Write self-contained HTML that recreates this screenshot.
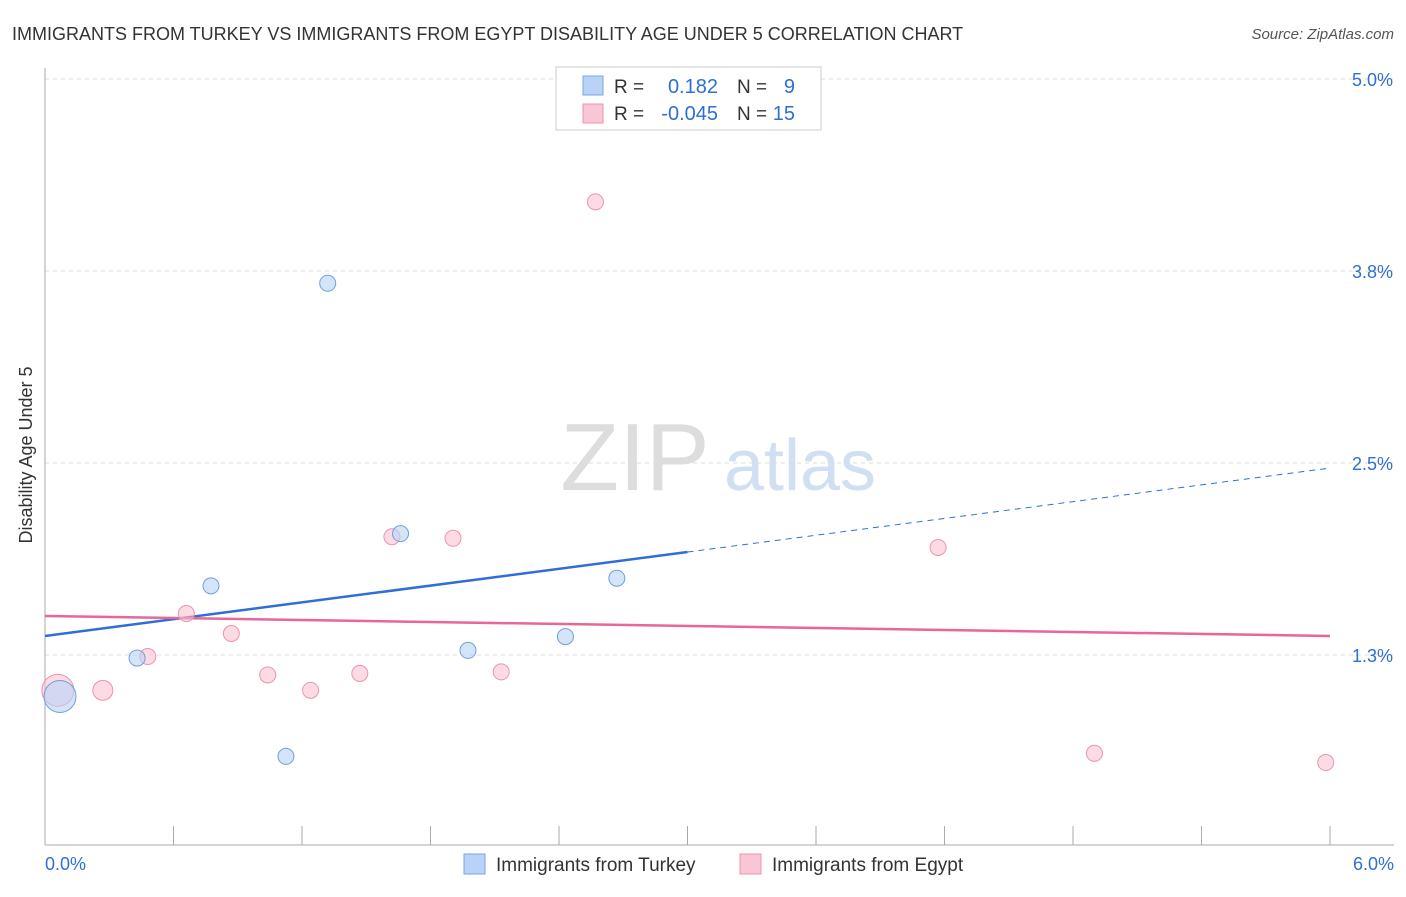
<!DOCTYPE html>
<html><head><meta charset="utf-8"><style>
body{margin:0;background:#fff;font-family:"Liberation Sans",sans-serif;}
svg text{font-family:"Liberation Sans",sans-serif;}
</style></head><body>
<svg id="chart" width="1406" height="892" xmlns="http://www.w3.org/2000/svg">
<text x="12" y="40" font-size="18" fill="#333">IMMIGRANTS FROM TURKEY VS IMMIGRANTS FROM EGYPT DISABILITY AGE UNDER 5 CORRELATION CHART</text>
<text x="1394" y="39" font-size="15" fill="#555" font-style="italic" text-anchor="end">Source: ZipAtlas.com</text>
<text x="32" y="455" font-size="18" fill="#333" text-anchor="middle" transform="rotate(-90 32 455)">Disability Age Under 5</text>
<g>
<text x="635" y="490" font-size="96" fill="#ddd" font-family="Liberation Serif" text-anchor="middle">ZIP</text>
<text x="800" y="490" font-size="72" fill="#d0dff2" text-anchor="middle">atlas</text>
</g>
<g id="grid"></g><g id="axes"></g><g id="lines"></g><g id="points"></g>
<g>
<rect x="556" y="67" width="265" height="63" fill="#fff" stroke="#ccc"/>
<rect x="583" y="76" width="20" height="19" fill="#b8d3f5" stroke="#7aa7e0"/>
<rect x="583" y="104" width="20" height="19" fill="#f9c6d5" stroke="#ec93ae"/>
<text x="614" y="93" font-size="19" fill="#333">R = </text><text x="718" y="93" font-size="20" fill="#2e6fd4" text-anchor="end">0.182</text>
<text x="737" y="93" font-size="19" fill="#333">N = </text><text x="795" y="93" font-size="20" fill="#2e6fd4" text-anchor="end">9</text>
<text x="614" y="120" font-size="19" fill="#333">R = </text><text x="718" y="120" font-size="20" fill="#2e6fd4" text-anchor="end">-0.045</text>
<text x="737" y="120" font-size="19" fill="#333">N = </text><text x="795" y="120" font-size="20" fill="#2e6fd4" text-anchor="end">15</text>
</g>
<g>
<rect x="464" y="854" width="21" height="20" fill="#b8d3f5" stroke="#7aa7e0"/>
<text x="496" y="871" font-size="19" fill="#333">Immigrants from Turkey</text>
<rect x="740" y="854" width="21" height="20" fill="#f9c6d5" stroke="#ec93ae"/>
<text x="772" y="871" font-size="19" fill="#333">Immigrants from Egypt</text>
</g>
</svg>
<script>
const yTicks=[1.25,2.5,3.75,5.0];
const yTickLabels=["1.3%","2.5%","3.8%","5.0%"];
const xTickLabels=["0.0%","6.0%"];
const turkeyX=[0.07,0.43,0.775,1.32,1.66,1.975,2.43,2.67,1.125];
const turkeyY=[0.98,1.23,1.70,3.67,2.04,1.28,1.37,1.75,0.59];
const turkeyR=[16,8,8,8,8,8,8,8,8];
const egyptX=[0.06,0.27,0.48,0.66,0.87,1.04,1.24,1.47,1.62,1.905,2.13,2.57,4.17,4.90,5.98];
const egyptY=[1.02,1.02,1.24,1.52,1.39,1.12,1.02,1.13,2.02,2.01,1.14,4.20,1.95,0.61,0.55];
const egyptR=[16,10,8,8,8,8,8,8,8,8,8,8,8,8,8];
const turkeyTrend=[1.374,2.467];
const egyptTrend=[1.504,1.374];
const NS="http://www.w3.org/2000/svg";
const X=v=>45+v*214.17, Y=v=>655-(v-1.25)*153.6;
function mk(tag,attrs,parent){const e=document.createElementNS(NS,tag);for(const k in attrs)e.setAttribute(k,attrs[k]);document.getElementById(parent).appendChild(e);return e;}
yTicks.forEach((t,i)=>{
 const g=mk('line',{x1:45,x2:1394,y1:Y(t),y2:Y(t),stroke:'#ddd','stroke-dasharray':'4 4'},'grid');
 
 
 const l=mk('text',{x:1393,y:Y(t)+7,'font-size':18,fill:'#2e6fd4','text-anchor':'end'},'grid');
 l.textContent=yTickLabels[i];
 
 
});
const ax=mk('line',{x1:45,x2:45,y1:68,y2:845,stroke:'#aaa'},'axes');


const bx=mk('line',{x1:45,x2:1394,y1:845,y2:845,stroke:'#aaa'},'axes');


for(let i=0;i<=10;i++){const t=mk('line',{x1:X(i*0.6),x2:X(i*0.6),y1:826,y2:845,stroke:'#aaa'},'axes');
 
 }
[[0,'start',45],[6,'end',1394]].forEach((d,i)=>{const t=mk('text',{x:d[2],y:870,'font-size':18,fill:'#2e6fd4','text-anchor':d[1]},'axes');t.textContent=xTickLabels[i];
 
 });
const lerp=(a,v)=>a[0]+(a[1]-a[0])*v/6;
const tb=mk('line',{x1:X(0),y1:Y(lerp(turkeyTrend,0)),x2:X(3),y2:Y(lerp(turkeyTrend,3)),stroke:'#2e6fd4','stroke-width':2.5},'lines');


const td=mk('line',{x1:X(3),y1:Y(lerp(turkeyTrend,3)),x2:X(6),y2:Y(lerp(turkeyTrend,6)),stroke:'#2e6fd4','stroke-width':1,'stroke-dasharray':'6 5'},'lines');


const ep=mk('line',{x1:X(0),y1:Y(egyptTrend[0]),x2:X(6),y2:Y(egyptTrend[1]),stroke:'#e8669a','stroke-width':2.5},'lines');


egyptX.forEach((x,i)=>{const c=mk('circle',{cx:X(x),cy:Y(egyptY[i]),r:egyptR[i],fill:'rgba(249,190,208,0.55)',stroke:'#ec93ae','stroke-width':1},'points');
 
 });
turkeyX.forEach((x,i)=>{const c=mk('circle',{cx:X(x),cy:Y(turkeyY[i]),r:turkeyR[i],fill:'rgba(184,211,245,0.6)',stroke:'#6f9fdc','stroke-width':1},'points');
 
 });
</script>
</body></html>
